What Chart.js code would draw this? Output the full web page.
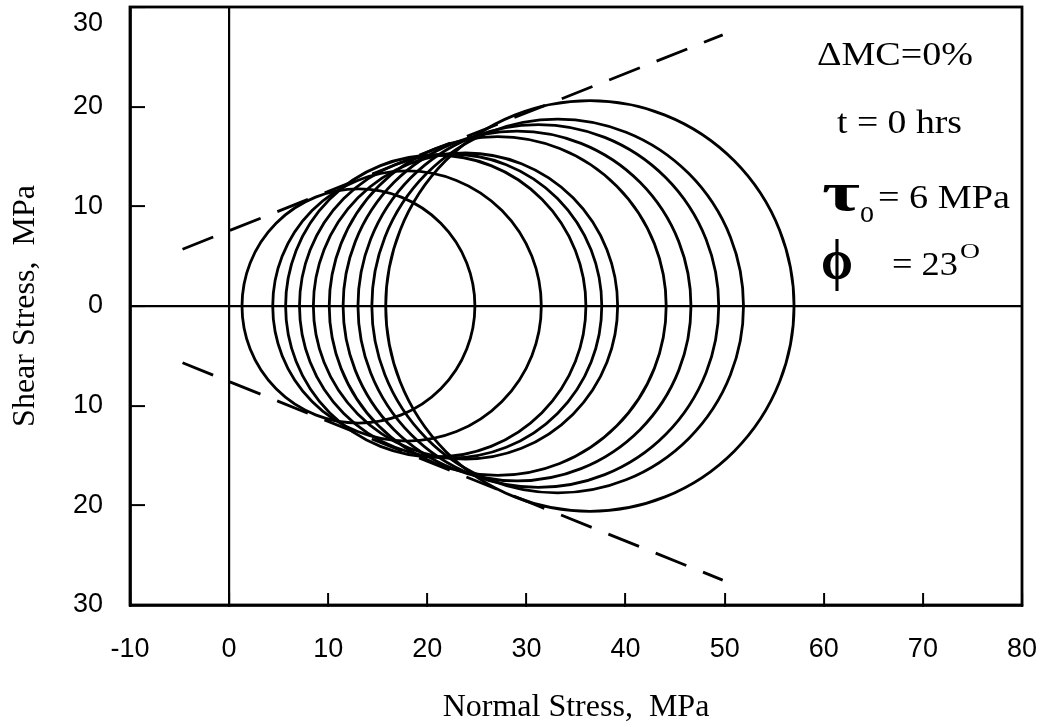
<!DOCTYPE html>
<html>
<head>
<meta charset="utf-8">
<script src="https://cdn.jsdelivr.net/npm/chart.js@4.4.1/dist/chart.umd.min.js"></script>
<style>
  html, body { margin: 0; padding: 0; background: #fff; }
</style>
</head>
<body>
<canvas id="mohr" width="1060" height="727"></canvas>
<script>
// principal stresses of each Mohr circle (MPa)
const sigma3 = [1.3, 4.4, 5.7, 7.1, 8.5, 10.1, 11.5, 13.0, 14.4, 15.8];
const sigma1 = [24.8, 31.5, 36.0, 37.6, 39.2, 44.1, 46.6, 49.4, 51.9, 57.0];

// failure envelope end points
const envX = [-4.7, 49.8];
const envUpper = [5.7, 27.2];
const envLower = [-5.7, -27.5];

const xRange = [-10, 80];
const yRange = [-30, 30];

const serif = "'Liberation Serif', 'Times New Roman', serif";
const sans = "'Liberation Sans', Arial, sans-serif";

function pts(xs, ys) {
    return xs.map((x, i) => ({ x: x, y: ys[i] }));
}

// draws the circles through the scales, plus the frame and the notes
const mohrPlugin = {
    id: "mohr",
    afterDatasetsDraw(chart) {
        const { ctx, chartArea: a, scales: { x, y } } = chart;
        ctx.save();
        ctx.beginPath();
        ctx.rect(a.left, a.top, a.right - a.left, a.bottom - a.top);
        ctx.clip();
        ctx.strokeStyle = "#000";
        ctx.lineWidth = 2.8;
        sigma3.forEach((s3, i) => {
            const c = (sigma1[i] + s3) / 2, r = (sigma1[i] - s3) / 2;
            const cx = x.getPixelForValue(c), cy = y.getPixelForValue(0);
            const rx = x.getPixelForValue(c + r) - cx;
            const ry = cy - y.getPixelForValue(r);
            ctx.beginPath();
            ctx.ellipse(cx, cy, rx, ry, 0, 0, Math.PI * 2);
            ctx.stroke();
        });
        ctx.restore();
    },
    afterDraw(chart) {
        const { ctx, chartArea: a } = chart;
        ctx.save();
        ctx.strokeStyle = "#000";
        ctx.lineWidth = 2.8;
        ctx.strokeRect(a.left, a.top, a.right - a.left, a.bottom - a.top);

        ctx.fillStyle = "#000";
        ctx.textBaseline = "alphabetic";
        ctx.textAlign = "left";
        // text stretched to the width it has in the figure
        const put = (txt, font, left, base, w) => {
            ctx.font = font;
            const m = ctx.measureText(txt).width;
            ctx.save();
            ctx.translate(left, base);
            ctx.scale(w ? w / m : 1, 1);
            ctx.fillText(txt, 0, 0);
            ctx.restore();
        };
        put("\u0394MC=0%", "33px " + serif, 817, 65, 156);
        put("t = 0 hrs", "33px " + serif, 837, 133, 125);
        put("\u03C4", "bold 54px " + serif, 822, 210, 38);
        put("o", "32px " + serif, 860, 222, 14);
        put("= 6 MPa", "33px " + serif, 878, 208, 132);
        put("\u03D5", "bold 58px " + serif, 821, 279, 32);
        put("= 23", "33px " + serif, 892, 275, 66);
        put("O", "22px " + serif, 960, 258, 20);
        ctx.restore();
    }
};

const zeroGrid = (len) => ({
    drawOnChartArea: true,
    drawTicks: true,
    tickLength: len,
    tickColor: "#000",
    tickWidth: 2,
    lineWidth: 2.2,
    color: (c) => (c.tick && c.tick.value === 0 ? "#000" : "rgba(0,0,0,0)")
});

new Chart(document.getElementById("mohr"), {
    type: "scatter",
    data: {
        datasets: [
            {
                data: pts(envX, envUpper),
                showLine: true,
                borderColor: "#000",
                borderWidth: 2.8,
                borderDash: [33, 18],
                pointRadius: 0
            },
            {
                data: pts(envX, envLower),
                showLine: true,
                borderColor: "#000",
                borderWidth: 2.8,
                borderDash: [33, 18],
                pointRadius: 0
            }
        ]
    },
    options: {
        responsive: false,
        animation: false,
        layout: { padding: { top: 7, right: 38, left: 0, bottom: 0 } },
        plugins: { legend: { display: false }, tooltip: { enabled: false } },
        scales: {
            x: {
                type: "linear",
                min: xRange[0],
                max: xRange[1],
                ticks: {
                    stepSize: 10,
                    color: "#000",
                    padding: 40,
                    font: { family: sans, size: 27 }
                },
                grid: zeroGrid(-12),
                border: { display: true, color: "#000", width: 2.8 },
                title: {
                    display: true,
                    text: "Normal Stress,  MPa",
                    color: "#000",
                    font: { family: serif, size: 32 },
                    padding: { top: 0, bottom: 0 }
                },
                afterFit: (s) => { s.height = 122; s.paddingLeft = 0; s.paddingRight = 0; }
            },
            y: {
                type: "linear",
                min: yRange[0],
                max: yRange[1],
                ticks: {
                    stepSize: 10,
                    color: "#000",
                    padding: 42,
                    font: { family: sans, size: 27 },
                    // the top label sits just under the frame
                    callback: (v) => (v === yRange[1] ? ["", String(v)] : Math.abs(v))
                },
                grid: zeroGrid(-15),
                border: { display: true, color: "#000", width: 2.8 },
                title: {
                    display: true,
                    text: "Shear Stress,  MPa",
                    color: "#000",
                    font: { family: serif, size: 32 },
                    padding: { top: 6, bottom: 0 }
                },
                afterFit: (s) => { s.width = 130; s.paddingTop = 0; s.paddingBottom = 0; }
            }
        }
    },
    plugins: [mohrPlugin]
});
</script>
</body>
</html>
